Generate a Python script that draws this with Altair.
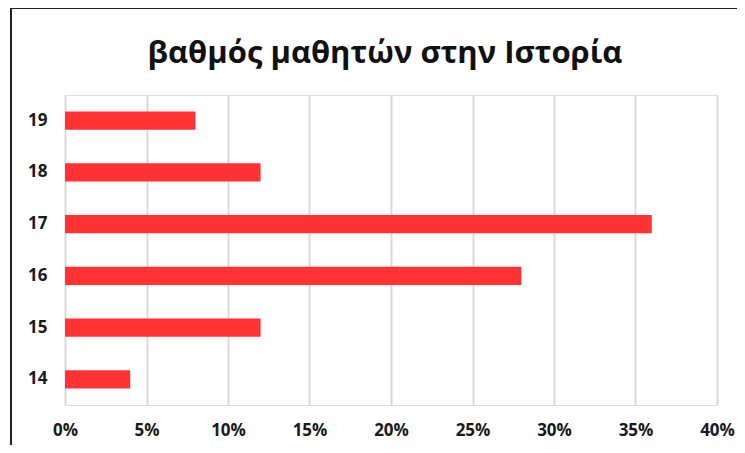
import altair as alt
import pandas as pd

grades = ["19", "18", "17", "16", "15", "14"]
shares = [0.08, 0.12, 0.36, 0.28, 0.12, 0.04]
x_ticks = [0, 0.05, 0.10, 0.15, 0.20, 0.25, 0.30, 0.35, 0.40]
title_text = ["βαθμός μαθητών στην Ιστορία"]

df = pd.DataFrame({"grade": grades, "share": shares})
tdf = pd.DataFrame({"t": title_text})

FONT = "Open Sans"

bars = alt.Chart(df).mark_bar(color="#FF3333").encode(
    y=alt.Y("grade:N", sort=grades, title=None,
            scale=alt.Scale(paddingInner=0.65, paddingOuter=0.32),
            axis=alt.Axis(domain=False, ticks=False, labelPadding=18,
                          labelFont=FONT, labelFontSize=17, labelFontWeight="bold",
                          labelColor="#1a1a1a", grid=False)),
    x=alt.X("share:Q", title=None,
            scale=alt.Scale(domain=[0, 0.40], nice=False),
            axis=alt.Axis(values=x_ticks, format=".0%", domain=False, ticks=False,
                          labelFlush=False,
                          labelPadding=17, labelFont=FONT, labelFontSize=17,
                          labelFontWeight="bold", labelColor="#1a1a1a",
                          grid=True, gridColor="#d9d9d9", gridWidth=2)),
)

title = alt.Chart(tdf).mark_text(font=FONT, fontSize=31, fontWeight="bold",
                                 color="#111111", align="center",
                                 baseline="alphabetic", clip=False).encode(
    text="t:N", x=alt.value(320), y=alt.value(-32)
)

frame_left = alt.Chart(df).mark_rule(color="#222222", strokeWidth=2, clip=False).encode(
    x=alt.value(-54), y=alt.value(-87), y2=alt.value(360)
)
frame_top = alt.Chart(df).mark_rule(color="#222222", strokeWidth=2, clip=False).encode(
    x=alt.value(-54), x2=alt.value(690), y=alt.value(-87)
)

chart = alt.layer(bars, title, frame_left, frame_top).properties(
    width=652,
    height=310,
    autosize=alt.AutoSizeParams(type="none"),
    padding={"left": 57, "top": 87, "right": 20, "bottom": 40},
).configure_view(strokeWidth=0, strokeOpacity=0).configure(background="white")

chart.save("out.html", embed_options={"renderer": "svg", "actions": False})
